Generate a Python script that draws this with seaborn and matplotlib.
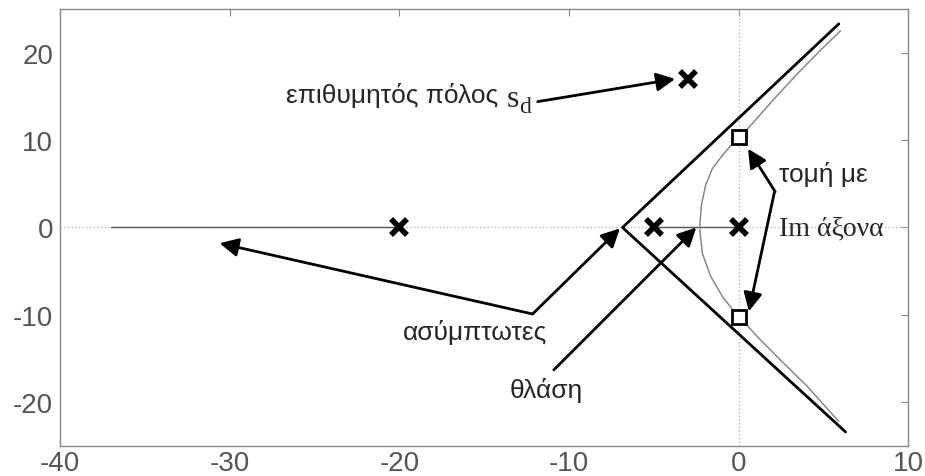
import matplotlib
matplotlib.use('Agg')
import matplotlib.pyplot as plt
import seaborn as sns

# Data
poles_x = [-20, -5, 0]
poles_y = [0, 0, 0]
sd_x, sd_y = [-3.0], [17.0]
cross_x = [0, 0]
cross_y = [10.35, -10.3]

# root locus branches
upper_x = [-2.3, -2.28, -2.2, -1.95, -1.55, -0.96, -0.28, 0.08, 0.9, 2.08, 3.46, 4.83, 6.0]
upper_y = [0.0, 0.5, 2.55, 4.85, 6.75, 8.26, 9.8, 10.35, 12.1, 14.7, 17.6, 20.3, 22.5]
lower_x = [-2.3, -2.3, -2.14, -1.65, -0.96, -0.28, 0.08, 1.1, 2.48, 4.05, 5.9]
lower_y = [0.0, -0.5, -2.97, -5.6, -7.9, -9.6, -10.3, -12.5, -15.2, -18.2, -22.2]
real_left_x = [-37.0, -20.0]
real_right_x = [-5.0, 0.0]

# asymptotes
asym_x = [5.9, -6.85, 6.3]
asym_y = [23.3, 0.0, -23.4]

xticks = [-40, -30, -20, -10, 0, 10]
yticks = [-20, -10, 0, 10, 20]

sns.set_style('white')
plt.rcParams['font.family'] = ['Liberation Sans', 'DejaVu Sans']
plt.rcParams['axes.unicode_minus'] = False

fig = plt.figure(figsize=(9.25, 4.77), dpi=100)
ax = fig.add_axes([0.065, 0.063, 0.917, 0.916])

# dotted axes through origin
ax.axhline(0, color='#bbbbbb', lw=1, ls=':', zorder=1)
ax.axvline(0, color='#bbbbbb', lw=1, ls=':', zorder=1)

# locus
sns.lineplot(x=real_left_x, y=[0, 0], color='#555555', lw=1, ax=ax)
sns.lineplot(x=real_right_x, y=[0, 0], color='#555555', lw=1, ax=ax)
sns.lineplot(x=upper_x, y=upper_y, sort=False, color='#808080', lw=1, ax=ax)
sns.lineplot(x=lower_x, y=lower_y, sort=False, color='#808080', lw=1, ax=ax)
sns.lineplot(x=asym_x, y=asym_y, sort=False, color='black', lw=2, ax=ax)

# poles and points
ax.plot(poles_x, poles_y, ls='none', marker='x', ms=11, mew=4, color='black', zorder=5)
ax.plot(sd_x, sd_y, ls='none', marker='x', ms=11, mew=4, color='black', zorder=5)
ax.plot(cross_x, cross_y, ls='none', marker='s', ms=10, mew=2, mfc='white', mec='black', zorder=5)

ap = dict(arrowstyle='-|>', mutation_scale=28, lw=2, color='black', shrinkA=0, shrinkB=0)
fs = 19

ax.text(-26.7, 15.2, 'επιθυμητός πόλος', fontsize=fs, va='center', ha='left')
ax.text(-13.65, 14.8, 's', fontsize=fs + 4, va='center', ha='left', family='Liberation Serif')
ax.text(-12.95, 13.9, 'd', fontsize=fs - 2, va='center', ha='left', family='Liberation Serif')
ax.annotate('', xy=(-3.75, 17.0), xytext=(-11.85, 14.4), arrowprops=ap)

ax.text(2.4, 6.2, 'τομή με', fontsize=fs, va='center', ha='left')
ax.text(2.4, -0.1, 'Im άξονα', fontsize=fs + 1, va='center', ha='left', family='Liberation Serif')
ax.annotate('', xy=(0.55, 9.0), xytext=(2.15, 4.1), arrowprops=ap)
ax.annotate('', xy=(0.6, -9.6), xytext=(2.1, 4.0), arrowprops=ap)

ax.text(-19.8, -11.9, 'ασύμπτωτες', fontsize=fs, va='center', ha='left')
ax.annotate('', xy=(-30.6, -1.8), xytext=(-12.15, -9.9), arrowprops=ap)
ax.annotate('', xy=(-7.0, -0.1), xytext=(-12.15, -9.9), arrowprops=ap)

ax.text(-13.5, -18.5, 'θλάση', fontsize=fs, va='center', ha='left')
ax.annotate('', xy=(-2.5, 0.0), xytext=(-10.9, -16.3), arrowprops=ap)

ax.set_xlim(-40, 10)
ax.set_ylim(-25, 25)
ax.set_xticks(xticks)
ax.set_yticks(yticks)
ax.tick_params(direction='in', length=5, color='#888888', labelsize=20,
               labelcolor='#555555', top=True, right=True)
ax.tick_params(axis='x', pad=3)
ax.tick_params(axis='y', pad=5)
for s in ax.spines.values():
    s.set_color('#888888')
    s.set_linewidth(1)
ax.set_xlabel('')
ax.set_ylabel('')

fig.savefig('out.png', dpi=100)
